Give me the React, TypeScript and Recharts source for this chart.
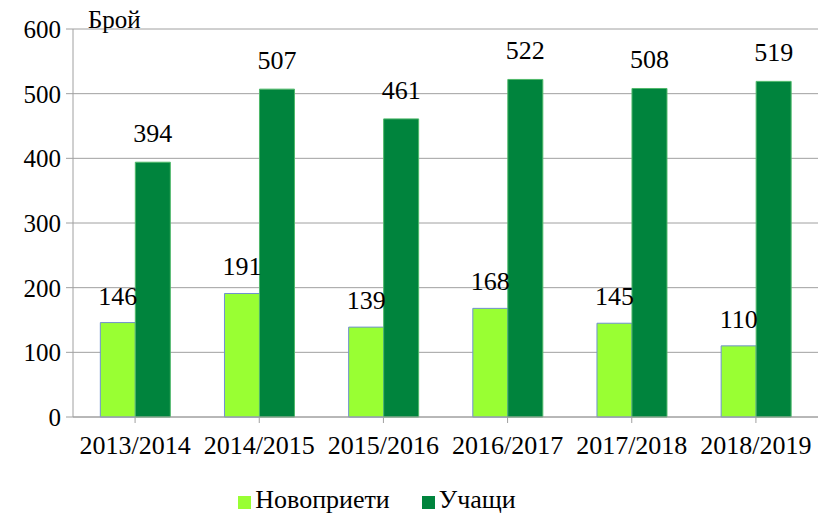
import React from "react";
import { BarChart, Bar, XAxis, YAxis, CartesianGrid, Legend, LabelList } from "recharts";

const years = ["2013/2014", "2014/2015", "2015/2016", "2016/2017", "2017/2018", "2018/2019"];
const newlyAdmitted = [146, 191, 139, 168, 145, 110];
const students = [394, 507, 461, 522, 508, 519];
const yTicks = [0, 100, 200, 300, 400, 500, 600];

const data = years.map((year, i) => ({
  year,
  admitted: newlyAdmitted[i],
  students: students[i],
}));

const font = "'Liberation Serif', 'Times New Roman', serif";

export default function App() {
  return (
    <div style={{ position: "absolute", left: 0, top: 0, width: 819, height: 515, background: "#fff", fontFamily: font }}>
      <BarChart
        width={819}
        height={515}
        data={data}
        margin={{ top: 29, right: 1, left: 0, bottom: 0 }}
        barCategoryGap="22%"
        barGap={0}
      >
        <CartesianGrid vertical={false} stroke="#a0a0a0" />
        <XAxis
          dataKey="year"
          stroke="#a0a0a0"
          tickLine={{ stroke: "#a0a0a0" }}
          tick={{ fill: "#000", fontSize: 26, fontFamily: font }}
          tickSize={6}
          tickMargin={13}
          height={68}
        />
        <YAxis
          domain={[0, 600]}
          ticks={yTicks}
          stroke="#a0a0a0"
          tick={{ fill: "#000", fontSize: 25, fontFamily: font }}
          tickSize={7}
          tickMargin={5}
          width={73}
          interval={0}
        />
        <Legend
          verticalAlign="bottom"
          align="center"
          iconType="square"
          iconSize={13}
          wrapperStyle={{ fontSize: 26, fontFamily: font, color: "#000", left: -16 }}
          formatter={(value) => <span style={{ color: "#000", marginRight: 22 }}>{value}</span>}
        />
        <Bar dataKey="admitted" name="Новоприети" fill="#99ff33" stroke="#7090d0" strokeWidth={1} isAnimationActive={false}>
          <LabelList dataKey="admitted" position="top" offset={18} style={{ fill: "#000", fontSize: 26, fontFamily: font }} />
        </Bar>
        <Bar dataKey="students" name="Учащи" fill="#00843d" stroke="#4fb86a" strokeWidth={1} isAnimationActive={false}>
          <LabelList dataKey="students" position="top" offset={20} style={{ fill: "#000", fontSize: 26, fontFamily: font }} />
        </Bar>
      </BarChart>
      <div style={{ position: "absolute", left: 88, top: 6, fontSize: 25, color: "#000" }}>Брой</div>
    </div>
  );
}
